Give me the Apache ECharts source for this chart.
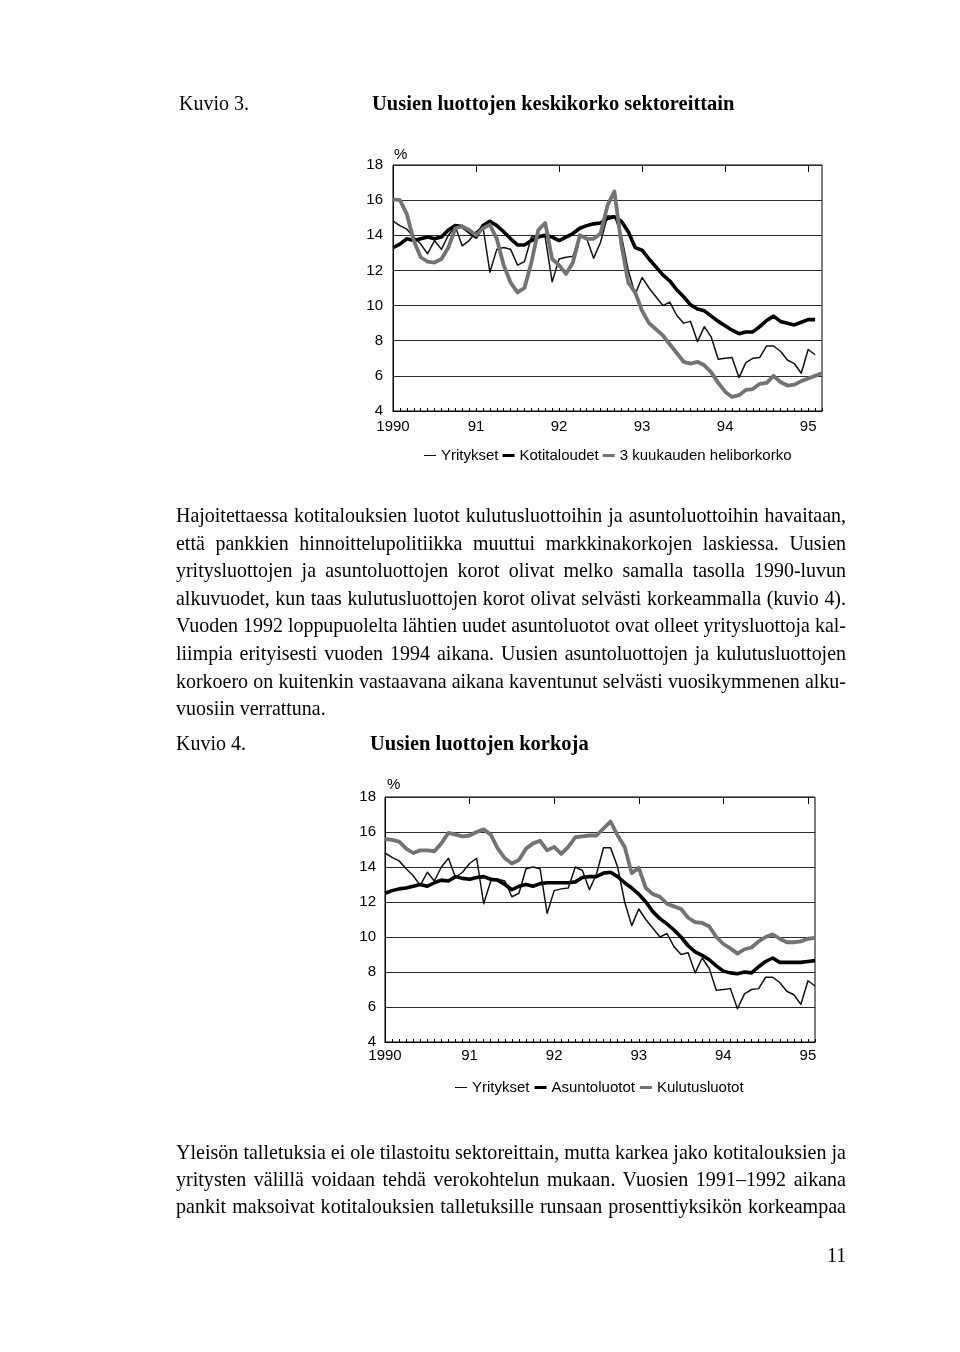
<!DOCTYPE html>
<html>
<head>
<meta charset="utf-8">
<script src="https://cdn.jsdelivr.net/npm/echarts@6/dist/echarts.min.js"></script>
<style>
  html, body { margin:0; padding:0; background:#fff; }
  body { width:960px; height:1352px; position:relative; overflow:hidden; }
  #chart { position:absolute; left:0; top:0; width:960px; height:1352px; }
  .tl { position:absolute; white-space:pre; transform-origin:0 50%; line-height:28px; height:28px;
        font-family:'Liberation Serif','DejaVu Serif',serif; color:#000; z-index:2; }
  .hd { position:absolute; white-space:pre; line-height:24px; font-family:'Liberation Serif',serif;
        font-size:20px; color:#000; z-index:2; transform-origin:0 50%; }
</style>
</head>
<body>
<div id="chart"></div>
<script>
// ---------- data ----------
const yearTicks  = [0, 12, 24, 36, 48, 60];
const yearLabels = ['1990', '91', '92', '93', '94', '95'];

// Kuvio 3 (monthly, Jan 1990 ->)
const yritykset = [14.8,14.55,14.35,13.9,13.5,12.95,13.7,13.2,14.0,14.5,
  13.4,13.7,14.2,14.5,11.9,13.2,13.3,13.2,12.3,12.5,
  13.9,14.0,13.9,11.35,12.65,12.75,12.8,14.0,13.8,12.7,
  13.6,15.1,15.1,14.0,12.0,10.65,11.6,11.0,10.5,10.0,
  10.2,9.45,9.0,9.1,7.95,8.8,8.2,6.95,7.0,7.05,
  5.9,6.75,7.0,7.05,7.7,7.7,7.4,6.9,6.7,6.15,
  7.5,7.2];
const kotitaloudet = [13.3,13.5,13.8,13.7,13.8,13.9,13.8,13.9,14.3,14.55,
  14.5,14.2,13.9,14.55,14.8,14.55,14.2,13.8,13.45,13.45,
  13.7,13.9,14.0,13.9,13.7,13.9,14.1,14.4,14.55,14.65,
  14.7,14.95,15.05,14.8,14.2,13.3,13.15,12.65,12.2,11.75,
  11.4,10.9,10.5,10.05,9.8,9.7,9.4,9.1,8.85,8.6,
  8.4,8.5,8.5,8.8,9.15,9.4,9.1,9.0,8.9,9.05,
  9.2,9.2];
const helibor = [16.05,16.0,15.2,13.7,12.75,12.5,12.45,12.65,13.3,14.4,
  14.5,14.3,14.0,14.4,14.6,13.8,12.3,11.3,10.75,11.0,
  12.45,14.3,14.7,12.65,12.3,11.8,12.45,14.0,13.8,13.8,
  14.1,15.7,16.5,13.5,11.3,10.75,9.7,9.0,8.65,8.3,
  7.8,7.3,6.8,6.7,6.8,6.6,6.2,5.6,5.1,4.8,
  4.9,5.2,5.25,5.55,5.6,6.0,5.65,5.45,5.5,5.7,
  5.85,6.0,6.15];

// Kuvio 4
const asuntoluotot = [12.5,12.65,12.75,12.8,12.9,13.0,12.9,13.1,13.25,13.2,
  13.45,13.35,13.3,13.4,13.45,13.3,13.25,13.0,12.7,12.9,
  13.0,12.9,13.05,13.1,13.1,13.1,13.1,13.15,13.4,13.45,
  13.45,13.65,13.7,13.45,13.1,12.8,12.45,12.0,11.45,11.05,
  10.75,10.4,10.0,9.5,9.15,8.95,8.7,8.35,8.05,7.95,
  7.9,8.0,7.95,8.3,8.6,8.8,8.55,8.55,8.55,8.55,
  8.6,8.65];
const kulutusluotot = [15.6,15.55,15.45,15.05,14.8,14.95,14.95,14.9,15.35,15.95,
  15.85,15.75,15.8,16.0,16.15,15.85,15.05,14.5,14.2,14.4,
  15.05,15.35,15.5,14.95,15.15,14.75,15.15,15.7,15.75,15.8,
  15.8,16.2,16.6,15.8,15.15,13.65,13.95,12.8,12.45,12.3,
  11.9,11.75,11.6,11.1,10.85,10.8,10.6,10.0,9.6,9.35,
  9.05,9.3,9.4,9.75,10.0,10.15,9.9,9.7,9.7,9.75,
  9.9,9.95];

const para1 = [
  'Hajoitettaessa kotitalouksien luotot kulutusluottoihin ja asuntoluottoihin havaitaan,',
  'että pankkien hinnoittelupolitiikka muuttui markkinakorkojen laskiessa. Uusien',
  'yritysluottojen ja asuntoluottojen korot olivat melko samalla tasolla 1990-luvun',
  'alkuvuodet, kun taas kulutusluottojen korot olivat selvästi korkeammalla (kuvio 4).',
  'Vuoden 1992 loppupuolelta lähtien uudet asuntoluotot ovat olleet yritysluottoja kal-',
  'liimpia erityisesti vuoden 1994 aikana. Uusien asuntoluottojen ja kulutusluottojen',
  'korkoero on kuitenkin vastaavana aikana kaventunut selvästi vuosikymmenen alku-',
  'vuosiin verrattuna.'
];
const para2 = [
  'Yleisön talletuksia ei ole tilastoitu sektoreittain, mutta karkea jako kotitalouksien ja',
  'yritysten välillä voidaan tehdä verokohtelun mukaan. Vuosien 1991–1992 aikana',
  'pankit maksoivat kotitalouksien talletuksille runsaan prosenttiyksikön korkeampaa'
];

// ---------- text ----------
function heading(text, left, cy, bold, size) {
  const d = document.createElement('div');
  d.className = 'hd';
  d.textContent = text;
  d.style.left = left + 'px';
  d.style.top = (cy - 12) + 'px';
  if (size) d.style.fontSize = size + 'px';
  if (bold) d.style.fontWeight = 'bold';
  document.body.appendChild(d);
}
heading('Kuvio 3.', 179, 103, false, 20);
heading('Uusien luottojen keskikorko sektoreittain', 372, 103, true, 20.5);
heading('Kuvio 4.', 176, 743, false, 20);
heading('Uusien luottojen korkoja', 370, 743, true, 20.5);
heading('11', 827, 1255, false, 20);

function placePara(lines, y0, step, lastJustified) {
  const target = 670, left = 176, fs = 21;
  const els = lines.map((t, i) => {
    const d = document.createElement('div');
    d.className = 'tl';
    d.style.top = (y0 + i * step - 14) + 'px';
    d.style.left = left + 'px';
    d.style.fontSize = fs + 'px';
    d.textContent = t;
    document.body.appendChild(d);
    return d;
  });
  const widths = els.map(e => e.getBoundingClientRect().width);
  const just = lines.map((t, i) => i < lines.length - 1 || lastJustified);
  let s = 1;
  widths.forEach((w, i) => { if (just[i]) s = Math.min(s, target / w); });
  els.forEach((e, i) => {
    e.style.transform = 'scaleX(' + s + ')';
    if (just[i]) {
      const sp = (lines[i].match(/ /g) || []).length;
      if (sp) e.style.wordSpacing = ((target / s - widths[i]) / sp) + 'px';
    }
  });
}
placePara(para1, 515, 27.6, false);
placePara(para2, 1152, 27.2, true);

// ---------- chart ----------
const FONT = 'Liberation Sans';
const pairs = arr => arr.map((v, i) => [i, v]);
const range = n => Array.from({length: n + 1}, (_, i) => i);
const thinIcon  = 'path://M0,0h14v0.01h-14z M0,2.4h14v1.3h-14z M0,5.99h14v0.01h-14z';
const thickIcon = 'path://M0,0h14v0.01h-14z M0,1.3h14v3.4h-14z M0,5.99h14v0.01h-14z';

function xAxes(gridIndex, max, margin) {
  return [
    { type: 'value', gridIndex, min: 0, max,
      axisLine: { show: true, onZero: false, lineStyle: { color: '#000', width: 1 } },
      axisTick: { show: true, inside: true, length: 3, customValues: range(max), lineStyle: { color: '#000', width: 1 } },
      axisLabel: { show: true, customValues: yearTicks, margin, fontFamily: FONT, fontSize: 15, color: '#000',
                   formatter: v => yearLabels[yearTicks.indexOf(v)] || '' },
      splitLine: { show: false } },
    { type: 'value', gridIndex, min: 0, max,
      axisLine: { show: false, onZero: false },
      axisTick: { show: true, inside: true, length: 7, customValues: yearTicks, lineStyle: { color: '#000', width: 1 } },
      axisLabel: { show: false },
      splitLine: { show: false } }
  ];
}
function yAxis(gridIndex, nameGap, padLeft, margin) {
  return { type: 'value', gridIndex, min: 4, max: 18, interval: 2,
    name: '%', nameLocation: 'end', nameGap,
    nameTextStyle: { fontFamily: FONT, fontSize: 15, color: '#000', align: 'left', padding: [0, 0, 0, padLeft] },
    axisLine: { show: true, lineStyle: { color: '#000', width: 1 } },
    axisTick: { show: false },
    axisLabel: { fontFamily: FONT, fontSize: 15, color: '#000', margin },
    splitLine: { show: true, lineStyle: { color: '#2b2b2b', width: 1.1 } } };
}
function line(name, data, xi, yi, color, width) {
  return { name, type: 'line', xAxisIndex: xi, yAxisIndex: yi, data: pairs(data),
    symbol: 'none', color, lineStyle: { color, width, join: 'round' }, silent: true };
}

const chart = echarts.init(document.getElementById('chart'), null, { renderer: 'canvas' });
chart.setOption({
  animation: false,
  backgroundColor: 'transparent',
  grid: [
    { left: 393, top: 165, width: 429, height: 246, show: true, borderColor: '#000', borderWidth: 1, containLabel: false },
    { left: 385, top: 797, width: 430, height: 245, show: true, borderColor: '#000', borderWidth: 1, containLabel: false }
  ],
  xAxis: [].concat(xAxes(0, 62, 8), xAxes(1, 61, 6)),
  yAxis: [yAxis(0, 3, 1, 10), yAxis(1, 5, 2, 9)],
  legend: [
    { left: 419, top: 443, itemWidth: 12, itemHeight: 6, itemGap: 4, selectedMode: false,
      textStyle: { fontFamily: FONT, fontSize: 15, color: '#000' },
      data: [ { name: 'Yritykset', icon: thinIcon },
              { name: 'Kotitaloudet', icon: thickIcon },
              { name: '3 kuukauden heliborkorko', icon: thickIcon } ] },
    { left: 450, top: 1075, itemWidth: 12, itemHeight: 6, itemGap: 5, selectedMode: false,
      textStyle: { fontFamily: FONT, fontSize: 15, color: '#000' },
      data: [ { name: 'Yritykset', icon: thinIcon },
              { name: 'Asuntoluotot', icon: thickIcon },
              { name: 'Kulutusluotot', icon: thickIcon } ] }
  ],
  series: [
    line('Yritykset', yritykset, 0, 0, '#111', 1.5),
    line('Kotitaloudet', kotitaloudet, 0, 0, '#000', 3.6),
    line('3 kuukauden heliborkorko', helibor, 0, 0, '#737373', 3.8),
    line('Yritykset', yritykset, 2, 1, '#111', 1.5),
    line('Asuntoluotot', asuntoluotot, 2, 1, '#000', 3.6),
    line('Kulutusluotot', kulutusluotot, 2, 1, '#737373', 3.8)
  ]
});
</script>
</body>
</html>
